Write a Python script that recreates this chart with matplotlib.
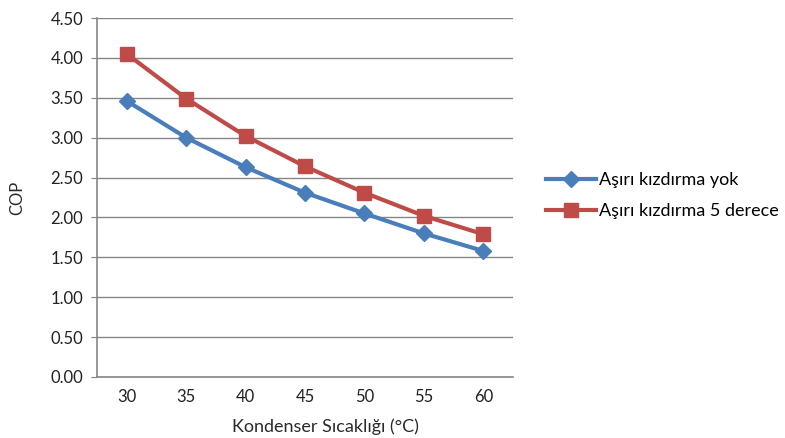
import matplotlib.pyplot as plt

# data
temps = [30, 35, 40, 45, 50, 55, 60]
cop_no_superheat = [3.46, 3.00, 2.63, 2.31, 2.05, 1.80, 1.58]
cop_superheat_5 = [4.05, 3.49, 3.02, 2.64, 2.31, 2.02, 1.79]
yticks = [0.0, 0.5, 1.0, 1.5, 2.0, 2.5, 3.0, 3.5, 4.0, 4.5]

plt.rcParams['font.family'] = ['Lato', 'DejaVu Sans']

fig = plt.figure(figsize=(7.85, 4.38), dpi=100)
ax = fig.add_axes([0.1236, 0.1393, 0.5299, 0.8196])

blue = '#4a7ebb'
red = '#be4b48'
grid_c = '#868686'

x = range(len(temps))
ax.plot(x, cop_no_superheat, color=blue, lw=3, marker='D', ms=8,
        label='Aşırı kızdırma yok')
ax.plot(x, cop_superheat_5, color=red, lw=3, marker='s', ms=10,
        label='Aşırı kızdırma 5 derece')

ax.set_xlim(-0.5, len(temps) - 0.5)
ax.set_ylim(0, 4.5)
ax.set_yticks(yticks)
ax.set_yticklabels([f'{v:.2f}' for v in yticks])
ax.set_xticks(list(x))
ax.set_xticklabels([str(t) for t in temps])
ax.grid(axis='y', color=grid_c, lw=1)
ax.set_axisbelow(True)

for s in ['top', 'right']:
    ax.spines[s].set_visible(False)
for s in ['left', 'bottom']:
    ax.spines[s].set_color(grid_c)
    ax.spines[s].set_linewidth(1.2)

ax.tick_params(axis='y', length=4, color=grid_c, labelsize=12, pad=6, labelcolor='#222222')
ax.tick_params(axis='x', length=0, labelsize=12, pad=9, labelcolor='#222222')

ax.set_xlabel('Kondenser Sıcaklığı (°C)', fontsize=13, color='#2a2a2a', labelpad=10)
ax.xaxis.set_label_coords(0.55, -0.115)
ax.set_ylabel('COP', fontsize=12, color='#2a2a2a', labelpad=18)

ax.legend(loc='center left', bbox_to_anchor=(1.04, 0.505), frameon=False,
          fontsize=13, handlelength=2.8, handletextpad=0.15, labelspacing=0.85)

fig.savefig('out.png', dpi=100)
